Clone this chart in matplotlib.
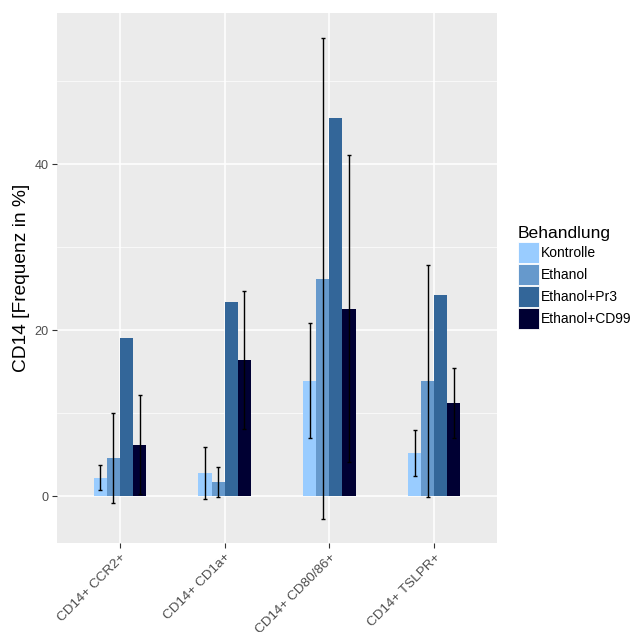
"""Grouped bar chart of CD14 subpopulation frequencies per treatment, with SD error bars."""

import numpy as np
import matplotlib.pyplot as plt
from matplotlib.patches import Patch

plt.rcParams["font.family"] = ["Liberation Sans", "DejaVu Sans"]

categories = ["CD14+ CCR2+", "CD14+ CD1a+", "CD14+ CD80/86+", "CD14+ TSLPR+"]
groups = ["Kontrolle", "Ethanol", "Ethanol+Pr3", "Ethanol+CD99"]
colors = ["#99CCFF", "#6699CC", "#336699", "#000033"]

kontrolle = [2.2, 2.8, 13.9, 5.2]
ethanol = [4.6, 1.7, 26.2, 13.9]
ethanol_pr3 = [19.0, 23.4, 45.6, 24.2]
ethanol_cd99 = [6.2, 16.4, 22.6, 11.2]

# standard deviations (no SD available for the Pr3 group)
kontrolle_sd = [1.5, 3.15, 6.95, 2.8]
ethanol_sd = [5.4, 1.8, 29.0, 14.0]
ethanol_pr3_sd = [np.nan, np.nan, np.nan, np.nan]
ethanol_cd99_sd = [6.0, 8.3, 18.5, 4.2]

means = [kontrolle, ethanol, ethanol_pr3, ethanol_cd99]
sds = [kontrolle_sd, ethanol_sd, ethanol_pr3_sd, ethanol_cd99_sd]

BAR_W = 0.125

fig = plt.figure(figsize=(6.36, 6.32), dpi=100)
ax = fig.add_axes([57 / 636, 89 / 632, 440 / 636, 530 / 632])
ax.set_facecolor("#EBEBEB")

x = np.arange(1, len(categories) + 1)
for j, (vals, err, col) in enumerate(zip(means, sds, colors)):
    pos = x + (j - 1.5) * BAR_W
    ax.bar(pos, vals, width=BAR_W, color=col, zorder=2, label=groups[j])
    err = np.asarray(err, dtype=float)
    ok = ~np.isnan(err)
    if ok.any():
        ax.errorbar(pos[ok], np.asarray(vals)[ok], yerr=err[ok], fmt="none",
                    ecolor="black", elinewidth=1.0, capsize=1.2, capthick=1.0,
                    zorder=3)

ax.set_xlim(0.4, 4.6)
ax.set_ylim(-5.65, 58.2)
ax.set_yticks([0, 20, 40])
ax.set_yticks([10, 30, 50], minor=True)
ax.set_xticks(x)
ax.set_xticklabels(categories, rotation=45, ha="right", va="top",
                   rotation_mode="anchor", fontsize=9.7)

ax.grid(True, which="major", color="white", linewidth=1.1, zorder=0)
ax.grid(True, which="minor", axis="y", color="white", linewidth=0.5, zorder=0)
ax.set_axisbelow(True)
for s in ax.spines.values():
    s.set_visible(False)
ax.tick_params(which="major", length=3.5, width=0.8, color="#333333",
               labelcolor="#4D4D4D", pad=2.5)
ax.tick_params(axis="y", which="major", labelsize=9.1)
ax.tick_params(which="minor", length=0)

ax.set_ylabel("CD14 [Frequenz in %]", fontsize=13.8, color="black", labelpad=3)

# legend keys fill the whole row, as in ggplot's guide
handles = [Patch(facecolor=c, edgecolor="white", linewidth=0.6) for c in colors]
leg = fig.legend(handles, groups, title="Behandlung", loc="upper left",
                 bbox_to_anchor=(518 / 636, 1 - 226 / 632), frameon=False,
                 fontsize=10, title_fontsize=12.6, handlelength=1.51,
                 handleheight=1.95, labelspacing=0.07, handletextpad=0.15,
                 borderpad=0, borderaxespad=0)
leg._legend_box.align = "left"

fig.savefig("out.png", dpi=100)
